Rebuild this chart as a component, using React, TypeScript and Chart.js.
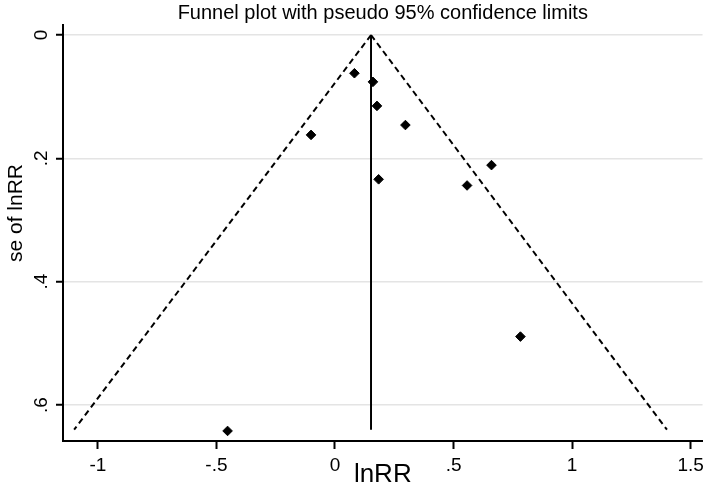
import { useEffect, useRef } from "react";
import { Chart, registerables } from "chart.js";

Chart.register(...registerables);

// ---- data ----
const lnRR = [0.082, 0.16, 0.177, 0.297, -0.101, 0.184, 0.557, 0.66, 0.782, -0.453];
const seLnRR = [0.062, 0.076, 0.115, 0.146, 0.162, 0.234, 0.244, 0.211, 0.489, 0.642];
const pooledLnRR = 0.152;
const funnelSe = [0, 0.64];
const lowerLimit = [0.152, -1.1];
const upperLimit = [0.152, 1.4];
const xTickValues = [-1, -0.5, 0, 0.5, 1, 1.5];
const xTickLabels = ["-1", "-.5", "0", ".5", "1", "1.5"];
const yTickValues = [0, 0.2, 0.4, 0.6];
const yTickLabels = ["0", ".2", ".4", ".6"];
const chartTitle = "Funnel plot with pseudo 95% confidence limits";
const xTitle = "lnRR";
const yTitle = "se of lnRR";

const REG = "'Liberation Sans', Arial, sans-serif";

const textPlugin = {
  id: "stataText",
  afterDraw(chart: any) {
    const ctx = chart.ctx;
    const area = chart.chartArea;
    const yScale = chart.scales.y;
    ctx.save();
    ctx.fillStyle = "#000";
    // title
    ctx.font = `20px ${REG}`;
    ctx.textAlign = "center";
    ctx.textBaseline = "middle";
    ctx.fillText(chartTitle, (area.left + area.right) / 2, 13);
    // y tick labels (rotated)
    ctx.font = `19px ${REG}`;
    yTickValues.forEach((v, i) => {
      const py = yScale.getPixelForValue(v);
      ctx.save();
      ctx.translate(42, py);
      ctx.rotate(-Math.PI / 2);
      ctx.textAlign = "center";
      ctx.textBaseline = "middle";
      ctx.fillText(yTickLabels[i], 0, 0);
      ctx.restore();
    });
    // y title
    ctx.font = `21px ${REG}`;
    ctx.save();
    ctx.translate(16, 213);
    ctx.rotate(-Math.PI / 2);
    ctx.textAlign = "center";
    ctx.textBaseline = "middle";
    ctx.fillText(yTitle, 0, 0);
    ctx.restore();
    ctx.restore();
  },
};

export default function App() {
  const ref = useRef<HTMLCanvasElement | null>(null);
  useEffect(() => {
    if (!ref.current) return;
    const points = lnRR.map((x, i) => ({ x, y: seLnRR[i] }));
    const chart = new Chart(ref.current, {
      type: "scatter",
      data: {
        datasets: [
          {
            label: "lower",
            data: funnelSe.map((s, i) => ({ x: lowerLimit[i], y: s })),
            showLine: true,
            borderColor: "#000",
            borderWidth: 2,
            borderDash: [6, 4],
            pointRadius: 0,
          },
          {
            label: "upper",
            data: funnelSe.map((s, i) => ({ x: upperLimit[i], y: s })),
            showLine: true,
            borderColor: "#000",
            borderWidth: 2,
            borderDash: [6, 4],
            pointRadius: 0,
          },
          {
            label: "pooled",
            data: funnelSe.map((s) => ({ x: pooledLnRR, y: s })),
            showLine: true,
            borderColor: "#000",
            borderWidth: 2,
            pointRadius: 0,
          },
          {
            label: "studies",
            data: points,
            pointStyle: "rectRot",
            pointRadius: 4.8,
            backgroundColor: "#000",
            borderColor: "#000",
            borderWidth: 1,
          },
        ],
      },
      options: {
        responsive: false,
        animation: false,
        events: [],
        layout: { padding: { top: 25, left: 0, right: 0, bottom: 0 } },
        plugins: { legend: { display: false }, tooltip: { enabled: false }, title: { display: false } },
        scales: {
          x: {
            type: "linear",
            min: -1.147,
            max: 1.55,
            afterBuildTicks: (s: any) => {
              s.ticks = xTickValues.map((value) => ({ value }));
            },
            afterFit: (s: any) => {
              s.height = 49;
            },
            ticks: {
              autoSkip: false,
              maxRotation: 0,
              color: "#000",
              padding: 5,
              font: { family: REG, size: 19 },
              callback: (v: any) => xTickLabels[xTickValues.indexOf(v)],
            },
            grid: { drawOnChartArea: false, tickLength: 8, tickColor: "#000", tickWidth: 2 },
            border: { color: "#000", width: 2 },
            title: {
              display: true,
              text: xTitle,
              color: "#000",
              font: { family: REG, size: 26 },
              padding: { top: -2, bottom: 0 },
            },
          },
          y: {
            type: "linear",
            reverse: true,
            min: -0.0162,
            max: 0.6583,
            afterBuildTicks: (s: any) => {
              s.ticks = yTickValues.map((value) => ({ value }));
            },
            afterFit: (s: any) => {
              s.width = 63;
            },
            ticks: { display: false },
            grid: { color: "#e4e4e4", lineWidth: 1.5, tickLength: 7, tickColor: "#000", tickWidth: 2 },
            border: { color: "#000", width: 2 },
          },
        },
      },
      plugins: [textPlugin],
    });
    return () => chart.destroy();
  }, []);
  return (
    <div style={{ position: "absolute", left: 0, top: 0, width: 709, height: 490, background: "#fff" }}>
      <canvas ref={ref} width={709} height={490} />
    </div>
  );
}
